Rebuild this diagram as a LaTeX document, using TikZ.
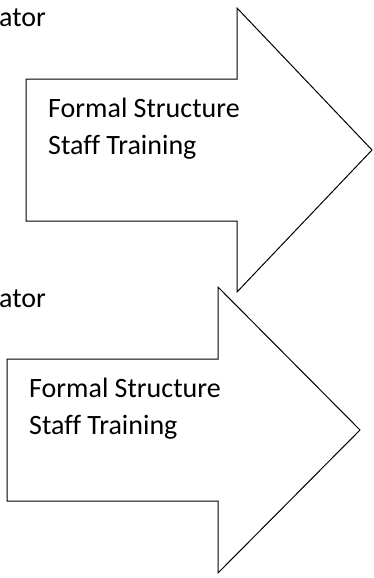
\documentclass[tikz,border=0pt]{standalone}
\usepackage{fontspec}
\setmainfont{Carlito}[Ligatures=NoCommon]
\usepackage{tikz}
\tikzstyle{bigarrow} = [draw=black, fill=white, line width=1pt, line join=miter]
\tikzstyle{textblock} = [inner sep=0pt, align=left, font=\fontsize{28}{37}\selectfont]

\begin{document}
\begin{tikzpicture}[x=1pt, y=-1pt]
    \useasboundingbox (0,0) rectangle (373,578);

    % Arrows
    \draw [bigarrow] (26,79) -- (237,79) -- (237,8) -- (372,150) -- (237,292) -- (237,221) -- (26,221) -- cycle;
    \draw [bigarrow] (7,359) -- (218,359) -- (218,287) -- (360,430) -- (218,573) -- (218,501) -- (7,501) -- cycle;

    % Nodes
    \node (top) [textblock, anchor=base west] at (-1,27) {ator};
    \node (fs1) [textblock, anchor=north west] at (48,98) {Formal Structure\\Staff Training};
    \node (bot) [textblock, anchor=base west] at (-1,307) {ator};
    \node (fs2) [textblock, anchor=north west] at (29,378) {Formal Structure\\Staff Training};

\end{tikzpicture}
\end{document}
